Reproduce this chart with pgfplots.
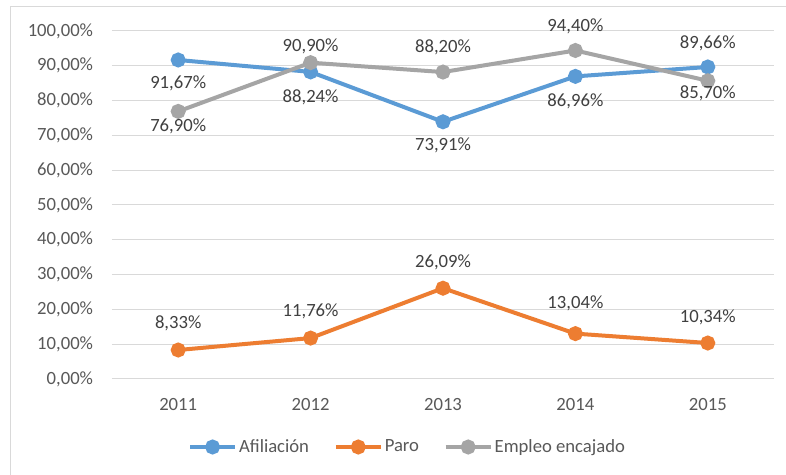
\documentclass[border=0pt]{standalone}
\usepackage{fontspec}
\setmainfont{Carlito}
\usepackage{pgfplots}
\pgfplotsset{compat=1.18}
\usepackage{pgfplotstable}
\definecolor{cblue}{HTML}{5B9BD5}
\definecolor{corange}{HTML}{ED7D31}
\definecolor{cgray}{HTML}{A5A5A5}
\definecolor{ctext}{HTML}{595959}
\definecolor{clabel}{HTML}{404040}
\definecolor{cgrid}{HTML}{D9D9D9}

\pgfplotstableread{
x y dy
0 91.67 -23
1 88.24 -25
2 73.91 -24
3 86.96 -25
4 89.66 24
}\afil
\pgfplotstableread{
x y dy
0 8.33 27
1 11.76 27
2 26.09 26
3 13.04 30
4 10.34 26
}\paro
\pgfplotstableread{
x y dy
0 76.90 -15
1 90.90 16
2 88.20 25
3 94.40 24
4 85.70 -13
}\empleo

\begin{document}
\begin{tikzpicture}
\useasboundingbox (0,0) rectangle (589.5pt,356.25pt);
\fill[white] (0,0) rectangle (589.5pt,356.25pt);
\draw[cgrid, line width=0.75pt] (7.5pt,-5pt) -- (7.5pt,351pt) -- (600pt,351pt);
\begin{axis}[
  at={(84pt,72pt)}, anchor=south west, scale only axis,
  width=496.5pt, height=261pt,
  xmin=-0.5, xmax=4.5, ymin=0, ymax=100,
  xtick={0,1,2,3,4}, xticklabels={2011,2012,2013,2014,2015},
  ytick={0,10,...,100},
  ymajorgrids, grid style={cgrid, line width=0.75pt},
  axis line style={draw=none}, major tick length=0pt,
  font=\fontsize{14}{16.8}\selectfont,
  /pgf/number format/assume math mode=true,
  yticklabel={\pgfmathprintnumber[fixed,fixed zerofill,precision=2,use comma]{\tick}\%},
  yticklabel style={text=ctext, inner sep=0pt, anchor=east, xshift=-14pt},
  xticklabel style={text=ctext, inner sep=0pt, anchor=north, yshift=-14pt},
  clip=false,
  point meta=explicit,
  nodes near coords={\pgfmathprintnumber[fixed,fixed zerofill,precision=2,use comma]{\pgfplotspointmeta}\%},
  visualization depends on={\thisrow{dy} \as \dy},
  every node near coord/.append style={anchor=center, inner sep=0pt, text=clabel, yshift={\dy*0.75pt}, font=\fontsize{14}{16.8}\selectfont},
  legend columns=3,
  legend style={at={(0.4464,-0.1954)}, anchor=center, draw=none, fill=none,
    text=ctext, font=\fontsize{14}{16.8}\selectfont,
    /tikz/every even column/.append style={column sep=17pt},
    nodes={inner sep=1.5pt}},
  legend image code/.code={\draw[#1, mark repeat=2, mark phase=2] plot coordinates {(0pt,0pt) (16.9pt,0pt) (33.75pt,0pt)};},
]
\addplot[cblue, line width=3pt, mark=*, mark size=4.1pt, mark options={fill=cblue, draw=none}] table[x=x, y=y, meta=y] {\afil};
\addlegendentry{Afiliación}
\addplot[corange, line width=3pt, mark=*, mark size=4.1pt, mark options={fill=corange, draw=none}] table[x=x, y=y, meta=y] {\paro};
\addlegendentry{Paro}
\addplot[cgray, line width=3pt, mark=*, mark size=4.1pt, mark options={fill=cgray, draw=none}] table[x=x, y=y, meta=y] {\empleo};
\addlegendentry{Empleo encajado}
\end{axis}
\end{tikzpicture}
\end{document}
